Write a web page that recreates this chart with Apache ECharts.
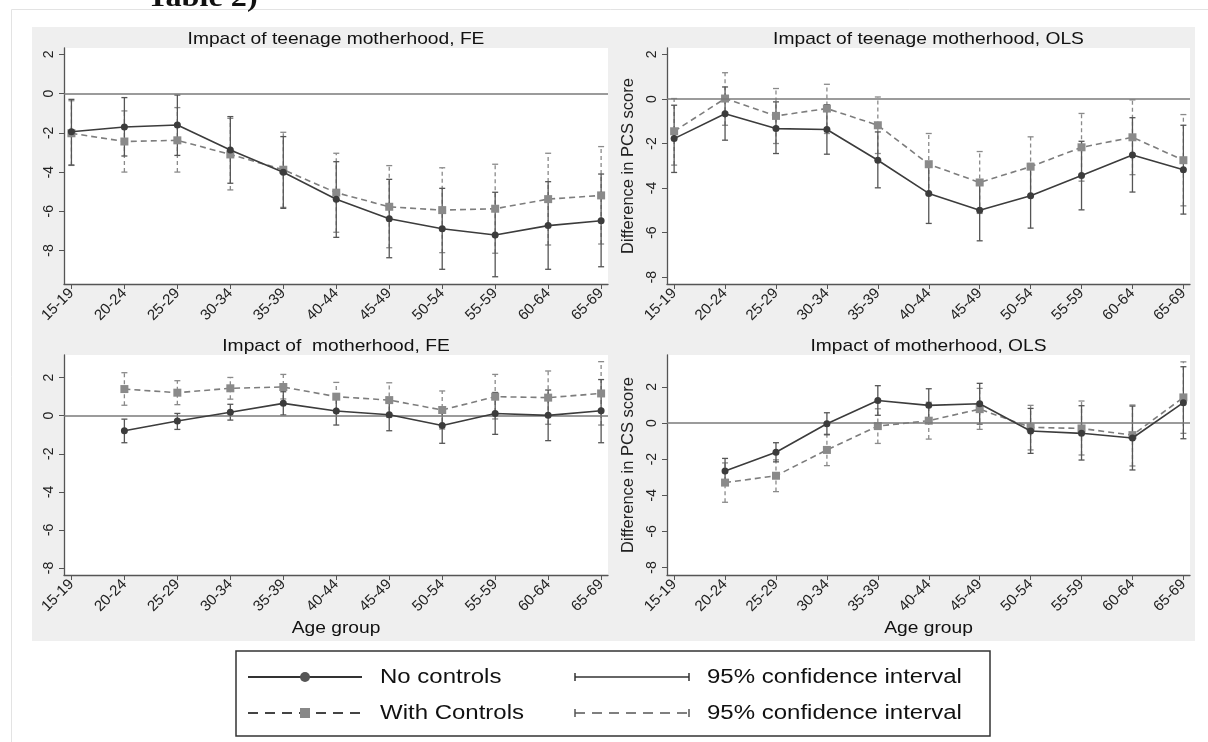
<!DOCTYPE html>
<html>
<head>
<meta charset="utf-8">
<title>Teenage motherhood and PCS score</title>
<script src="https://cdn.jsdelivr.net/npm/echarts@6/dist/echarts.min.js"></script>
<style>
  html, body { margin: 0; padding: 0; background: #fff; }
  #main { width: 1208px; height: 742px; }
</style>
</head>
<body>
<div id="main"></div>
<script>
// age groups on the x axis, y ticks shared by all four panels
var ageGroups = ['15-19', '20-24', '25-29', '30-34', '35-39', '40-44', '45-49', '50-54', '55-59', '60-64', '65-69'];
var yTicks = [-8, -6, -4, -2, 0, 2];

// Impact of teenage motherhood, FE
var teenFeNoCtrl = [-1.94, -1.70, -1.60, -2.87, -4.01, -5.39, -6.38, -6.89, -7.21, -6.73, -6.48];
var teenFeNoCtrlLo = [-3.64, -3.18, -3.15, -4.57, -5.85, -7.33, -8.37, -8.96, -9.34, -8.96, -8.83];
var teenFeNoCtrlHi = [-0.29, -0.20, -0.07, -1.17, -2.19, -3.47, -4.37, -4.83, -5.03, -4.49, -4.10];
var teenFeCtrl = [-2.02, -2.44, -2.38, -3.10, -3.88, -5.05, -5.77, -5.94, -5.87, -5.38, -5.19];
var teenFeCtrlLo = [-3.66, -4.00, -4.00, -4.91, -5.80, -7.07, -7.86, -8.11, -8.14, -7.72, -7.67];
var teenFeCtrlHi = [-0.36, -0.88, -0.71, -1.26, -1.97, -3.04, -3.67, -3.78, -3.60, -3.04, -2.70];

// Impact of teenage motherhood, OLS
var teenOlsNoCtrl = [-1.78, -0.66, -1.33, -1.37, -2.75, -4.24, -5.00, -4.35, -3.44, -2.52, -3.18];
var teenOlsNoCtrlLo = [-3.30, -1.85, -2.45, -2.48, -3.99, -5.59, -6.37, -5.80, -4.98, -4.18, -5.17];
var teenOlsNoCtrlHi = [-0.28, 0.54, -0.13, -0.26, -1.48, -2.89, -3.63, -2.90, -1.90, -0.84, -1.18];
var teenOlsCtrl = [-1.45, 0.02, -0.76, -0.43, -1.18, -2.93, -3.75, -3.04, -2.17, -1.72, -2.75];
var teenOlsCtrlLo = [-2.97, -1.18, -2.00, -1.55, -2.45, -4.31, -5.14, -4.38, -3.69, -3.40, -4.80];
var teenOlsCtrlHi = [0.02, 1.18, 0.47, 0.66, 0.09, -1.55, -2.36, -1.70, -0.65, -0.04, -0.70];

// Impact of motherhood, FE (no estimate for 15-19)
var motherFeNoCtrl = [null, -0.79, -0.28, 0.18, 0.65, 0.25, 0.05, -0.51, 0.12, 0.02, 0.26];
var motherFeNoCtrlLo = [null, -1.42, -0.72, -0.23, 0.04, -0.49, -0.79, -1.45, -0.98, -1.31, -1.42];
var motherFeNoCtrlHi = [null, -0.18, 0.12, 0.60, 1.26, 0.99, 0.89, 0.43, 1.22, 1.35, 1.90];
var motherFeCtrl = [null, 1.40, 1.21, 1.44, 1.51, 1.00, 0.82, 0.30, 1.00, 0.95, 1.17];
var motherFeCtrlLo = [null, 0.55, 0.58, 0.87, 0.88, 0.25, -0.09, -0.70, -0.17, -0.45, -0.49];
var motherFeCtrlHi = [null, 2.26, 1.84, 2.01, 2.17, 1.75, 1.73, 1.30, 2.17, 2.35, 2.84];

// Impact of motherhood, OLS
var motherOlsNoCtrl = [null, -2.66, -1.62, -0.04, 1.25, 0.98, 1.07, -0.44, -0.57, -0.83, 1.13];
var motherOlsNoCtrlLo = [null, -3.36, -2.15, -0.65, 0.43, 0.06, -0.06, -1.68, -2.05, -2.60, -0.87];
var motherOlsNoCtrlHi = [null, -1.96, -1.09, 0.57, 2.07, 1.90, 2.20, 0.81, 0.96, 0.94, 3.12];
var motherOlsCtrl = [null, -3.30, -2.92, -1.49, -0.17, 0.13, 0.77, -0.24, -0.30, -0.67, 1.42];
var motherOlsCtrlLo = [null, -4.39, -3.80, -2.36, -1.13, -0.89, -0.35, -1.49, -1.77, -2.38, -0.57];
var motherOlsCtrlHi = [null, -2.21, -2.04, -0.62, 0.79, 1.15, 1.92, 0.98, 1.22, 1.00, 3.39];

var FONT = '"Liberation Sans", Arial, Helvetica, sans-serif';
var DARK = '#3c3c3c';
var GREY = '#7d7d7d';

var panels = [
  { title: 'Impact of teenage motherhood, FE', grid: { left: 64, top: 48, width: 544, height: 236 }, y: [-9.71, 2.33],
    noCtrl: [teenFeNoCtrl, teenFeNoCtrlLo, teenFeNoCtrlHi], ctrl: [teenFeCtrl, teenFeCtrlLo, teenFeCtrlHi] },
  { title: 'Impact of teenage motherhood, OLS', grid: { left: 667, top: 48, width: 523, height: 236 }, y: [-8.31, 2.29],
    noCtrl: [teenOlsNoCtrl, teenOlsNoCtrlLo, teenOlsNoCtrlHi], ctrl: [teenOlsCtrl, teenOlsCtrlLo, teenOlsCtrlHi], yName: true },
  { title: 'Impact of  motherhood, FE', grid: { left: 64, top: 355, width: 544, height: 220 }, y: [-8.37, 3.19],
    noCtrl: [motherFeNoCtrl, motherFeNoCtrlLo, motherFeNoCtrlHi], ctrl: [motherFeCtrl, motherFeCtrlLo, motherFeCtrlHi], xName: true },
  { title: 'Impact of motherhood, OLS', grid: { left: 667, top: 355, width: 523, height: 220 }, y: [-8.42, 3.77],
    noCtrl: [motherOlsNoCtrl, motherOlsNoCtrlLo, motherOlsNoCtrlHi], ctrl: [motherOlsCtrl, motherOlsCtrlLo, motherOlsCtrlHi], yName: true, xName: true }
];

function points(vals) {
  var out = [];
  vals.forEach(function (v, i) { if (v != null) out.push([i, v]); });
  return out;
}

function bars(lo, hi) {
  var out = [];
  lo.forEach(function (v, i) { if (v != null) out.push([i, v, hi[i]]); });
  return out;
}

function errorBar(color, dashed) {
  return function (params, api) {
    var x = api.value(0);
    var a = api.coord([x, api.value(1)]);
    var b = api.coord([x, api.value(2)]);
    var w = 3;
    var st = { stroke: color, lineWidth: 1.3, fill: null, lineDash: dashed ? [4, 3] : null };
    var cap = { stroke: color, lineWidth: 1.3, fill: null };
    return {
      type: 'group',
      children: [
        { type: 'line', shape: { x1: a[0], y1: a[1], x2: b[0], y2: b[1] }, style: st },
        { type: 'line', shape: { x1: a[0] - w, y1: a[1], x2: a[0] + w, y2: a[1] }, style: cap },
        { type: 'line', shape: { x1: b[0] - w, y1: b[1], x2: b[0] + w, y2: b[1] }, style: cap }
      ]
    };
  };
}

var grids = [], xAxes = [], yAxes = [], series = [], graphics = [];

// page frame and grey background of the graph
graphics.push({ type: 'rect', shape: { x: 11.5, y: 9.5, width: 1210, height: 760 }, style: { fill: '#fff', stroke: '#e3e3e3', lineWidth: 1 }, z: -10 });
graphics.push({ type: 'rect', shape: { x: 32, y: 27, width: 1163, height: 614 }, style: { fill: '#efefef' }, z: -9 });
graphics.push({ type: 'text', x: 147, y: 13, style: { text: 'Table 2)', font: 'bold 28px "Liberation Serif", "DejaVu Serif", serif', fill: '#111', textVerticalAlign: 'bottom' }, scaleX: 1.15 });

panels.forEach(function (p, k) {
  grids.push(Object.assign({ show: true, backgroundColor: '#fff', borderWidth: 0 }, p.grid));

  xAxes.push({
    type: 'value', gridIndex: k, min: -0.14, max: 10.13,
    axisLine: { show: true, onZero: false, lineStyle: { color: '#555', width: 1.3 } },
    axisTick: { show: true, length: 5, customValues: ageGroups.map(function (a, i) { return i; }), lineStyle: { color: '#555' } },
    axisLabel: {
      customValues: ageGroups.map(function (a, i) { return i; }),
      rotate: 45, margin: 7, fontSize: 15, fontFamily: FONT, color: '#222',
      formatter: function (v) { return ageGroups[Math.round(v)]; }
    },
    splitLine: { show: false }
  });

  yAxes.push({
    type: 'value', gridIndex: k, min: p.y[0], max: p.y[1],
    name: p.yName ? 'Difference in PCS score' : '',
    nameLocation: 'middle', nameGap: 30,
    nameTextStyle: { fontSize: 16.5, fontFamily: FONT, color: '#222' },
    axisLine: { show: true, onZero: false, lineStyle: { color: '#555', width: 1.3 } },
    axisTick: { show: true, length: 5, customValues: yTicks, lineStyle: { color: '#555' } },
    axisLabel: { customValues: yTicks, rotate: 90, margin: 8, fontSize: 14, fontFamily: FONT, color: '#222' },
    splitLine: { show: false }
  });

  graphics.push({
    type: 'text', x: p.grid.left + p.grid.width / 2, y: p.grid.top - 9, scaleX: 1.13,
    style: { text: p.title, font: '17px ' + FONT, fill: '#111', textAlign: 'center', textVerticalAlign: 'middle' }
  });
  if (p.xName) {
    graphics.push({
      type: 'text', x: p.grid.left + p.grid.width / 2, y: 628, scaleX: 1.13,
      style: { text: 'Age group', font: '17px ' + FONT, fill: '#111', textAlign: 'center', textVerticalAlign: 'middle' }
    });
  }

  series.push({
    type: 'custom', xAxisIndex: k, yAxisIndex: k, renderItem: errorBar('#8a8a8a', true),
    data: bars(p.ctrl[1], p.ctrl[2]), encode: { x: 0, y: [1, 2] }, silent: true, z: 2
  });
  series.push({
    type: 'custom', xAxisIndex: k, yAxisIndex: k, renderItem: errorBar('#555', false),
    data: bars(p.noCtrl[1], p.noCtrl[2]), encode: { x: 0, y: [1, 2] }, silent: true, z: 3
  });
  series.push({
    name: 'With Controls', type: 'line', xAxisIndex: k, yAxisIndex: k,
    data: points(p.ctrl[0]), symbol: 'rect', symbolSize: 8, showAllSymbol: true,
    itemStyle: { color: '#8a8a8a' }, lineStyle: { color: GREY, width: 1.6, type: [6, 4] },
    silent: true, animation: false, z: 4,
    markLine: {
      silent: true, symbol: 'none', label: { show: false },
      lineStyle: { color: '#7a7a7a', width: 1.5, type: 'solid' },
      data: [{ yAxis: 0 }]
    }
  });
  series.push({
    name: 'No controls', type: 'line', xAxisIndex: k, yAxisIndex: k,
    data: points(p.noCtrl[0]), symbol: 'circle', symbolSize: 7, showAllSymbol: true,
    itemStyle: { color: DARK }, lineStyle: { color: DARK, width: 1.6 },
    silent: true, animation: false, z: 5
  });
});

// legend box
var lg = { x: 236, y: 651, w: 754, h: 85, r1: 677, r2: 713 };
graphics.push({ type: 'rect', shape: { x: lg.x, y: lg.y, width: lg.w, height: lg.h }, style: { fill: '#fff', stroke: '#333', lineWidth: 1.5 } });
graphics.push({ type: 'line', shape: { x1: 248, y1: lg.r1, x2: 362, y2: lg.r1 }, style: { stroke: '#333', lineWidth: 2 } });
graphics.push({ type: 'circle', shape: { cx: 305, cy: lg.r1, r: 5 }, style: { fill: '#555' } });
graphics.push({ type: 'line', shape: { x1: 248, y1: lg.r2, x2: 362, y2: lg.r2 }, style: { stroke: '#444', lineWidth: 2, lineDash: [10, 7] } });
graphics.push({ type: 'rect', shape: { x: 300, y: lg.r2 - 5, width: 10, height: 10 }, style: { fill: '#888' } });
graphics.push({ type: 'line', shape: { x1: 575, y1: lg.r1, x2: 689, y2: lg.r1 }, style: { stroke: '#333', lineWidth: 1.5 } });
graphics.push({ type: 'line', shape: { x1: 575, y1: lg.r1 - 4, x2: 575, y2: lg.r1 + 4 }, style: { stroke: '#333', lineWidth: 1.5 } });
graphics.push({ type: 'line', shape: { x1: 689, y1: lg.r1 - 4, x2: 689, y2: lg.r1 + 4 }, style: { stroke: '#333', lineWidth: 1.5 } });
graphics.push({ type: 'line', shape: { x1: 575, y1: lg.r2, x2: 689, y2: lg.r2 }, style: { stroke: '#555', lineWidth: 1.5, lineDash: [10, 7] } });
graphics.push({ type: 'line', shape: { x1: 575, y1: lg.r2 - 4, x2: 575, y2: lg.r2 + 4 }, style: { stroke: '#555', lineWidth: 1.5 } });
graphics.push({ type: 'line', shape: { x1: 689, y1: lg.r2 - 4, x2: 689, y2: lg.r2 + 4 }, style: { stroke: '#555', lineWidth: 1.5 } });
[['No controls', 380, lg.r1], ['With Controls', 380, lg.r2], ['95% confidence interval', 707, lg.r1], ['95% confidence interval', 707, lg.r2]].forEach(function (t) {
  graphics.push({ type: 'text', x: t[1], y: t[2], scaleX: 1.2, style: { text: t[0], font: '20px ' + FONT, fill: '#111', textVerticalAlign: 'middle' } });
});

var chart = echarts.init(document.getElementById('main'));
chart.setOption({
  animation: false,
  backgroundColor: '#fff',
  grid: grids,
  xAxis: xAxes,
  yAxis: yAxes,
  series: series,
  graphic: { elements: graphics }
});
</script>
</body>
</html>
